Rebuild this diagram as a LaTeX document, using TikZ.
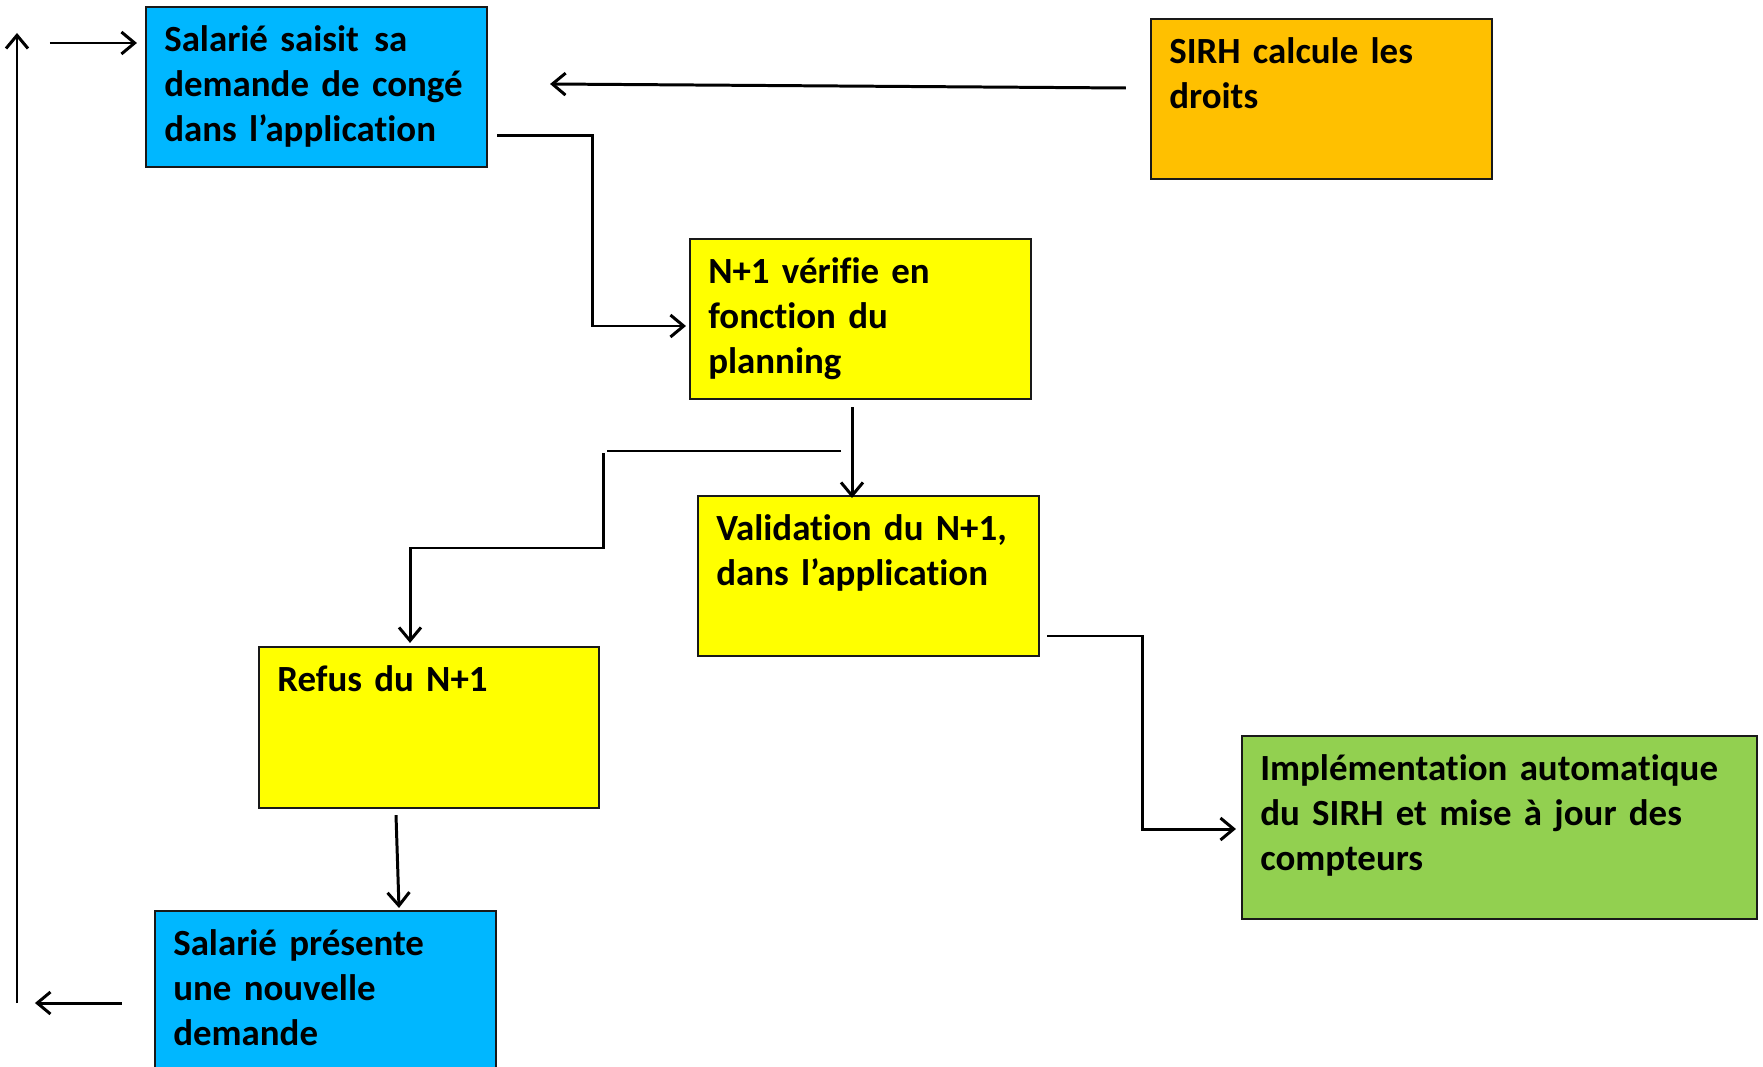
\documentclass[tikz,border=0pt]{standalone}
\usepackage{fontspec}
\setmainfont{Carlito}[Ligatures=NoCommon, WordSpace=0.85]
\usetikzlibrary{arrows.meta}
\definecolor{boxblue}{HTML}{00B7FF}
\definecolor{boxorange}{HTML}{FFC000}
\definecolor{boxyellow}{HTML}{FFFF00}
\definecolor{boxgreen}{HTML}{92D050}

% flow box: name, x1, y1, x2, y2, fill colour, text
\newcommand\flowbox[7]{%
  \node[box, fill=#6, minimum width={(#4-#2)*0.02cm}, minimum height={(#5-#3)*0.02cm}]
    (#1) at ({(#2+#4)/2},{(#3+#5)/2}) {};
  \node[txt] (#1-text) at ([shift={(19,46)}]#1.north west) {#7};
}

\begin{document}
\begin{tikzpicture}[x=0.02cm, y=-0.02cm,
  box/.style={draw=black!90, line width=1.2pt, rectangle, inner sep=0pt},
  txt/.style={font=\fontsize{21}{25.6}\selectfont\bfseries, align=left,
              text width=9.5cm, inner sep=0pt, anchor=base west},
  plain/.style={line width=1.7pt},
  link/.style={plain, -{Straight Barb[length=7.5pt, width=12.5pt]}}]
\useasboundingbox (0,0) rectangle (1763,1067);

% boxes
\flowbox{salarie}{146}{7}{487}{167}{boxblue}{Salarié saisit\hspace{0.42em}sa\\demande de congé\\dans l’application}
\flowbox{sirh}{1151}{19}{1492}{179}{boxorange}{SIRH calcule les\\droits}
\flowbox{verif}{690}{239}{1031}{399}{boxyellow}{N+1 vérifie en\\fonction du\\planning}
\flowbox{valid}{698}{496}{1039}{656}{boxyellow}{Validation du N+1,\\dans l’application}
\flowbox{refus}{259}{647}{599}{808}{boxyellow}{Refus du N+1}
\flowbox{nouvelle}{155}{911}{496}{1085}{boxblue}{Salarié présente\\une nouvelle\\demande}
\flowbox{impl}{1242}{736}{1757}{919}{boxgreen}{Implémentation automatique\\du SIRH et mise à jour des\\compteurs}

% free ends of the loop and of the refusal branch
\coordinate (loopB) at (17,1003);
\coordinate (loopT) at (17,33);
\coordinate (splitR) at (841,451);
\coordinate (splitL) at (607,451);
\coordinate (bend) at (603,453);

% connectors
\draw[link] ([shift={(9,-33)}]salarie.south east) -- ++(95,0) |- ([shift={(-3,7)}]verif.west);
\draw[link] ([shift={(-24,-11)}]sirh.west) -- ([shift={(62,-3)}]salarie.east);
\draw[link] ([shift={(-8.5,7)}]verif.south) -- ([shift={(-16.5,3)}]valid.north);
\draw[plain] (splitR) -- (splitL);
\draw[link] (bend) -- ++(0,95) -| ([shift={(-19,-3)}]refus.north);
\draw[link] ([shift={(7,60)}]valid.east) -- ++(95,0) |- ([shift={(-5,1.5)}]impl.west);
\draw[link] ([shift={(-33,6)}]refus.south) -- ([shift={(73.5,-2)}]nouvelle.north);
\draw[link] ([shift={(-32,5)}]nouvelle.west) -- ([shift={(-119,5)}]nouvelle.west);
\draw[link] (loopB) -- (loopT);
\draw[link] ([shift={(-95,-44)}]salarie.west) -- ([shift={(-8,-44)}]salarie.west);
\end{tikzpicture}
\end{document}
